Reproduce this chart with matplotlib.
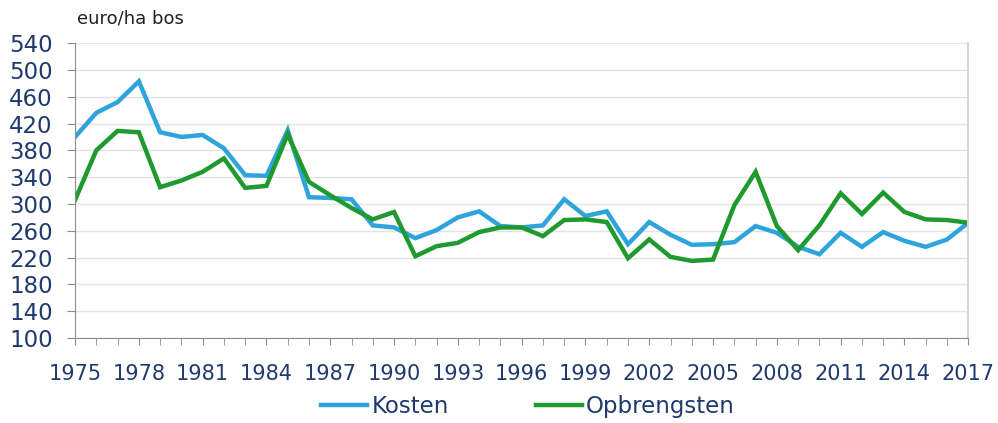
import matplotlib.pyplot as plt

years = list(range(1975, 2018))
kosten = [400, 436, 452, 483, 407, 400, 403, 383, 343, 342,
          410, 310, 309, 307, 268, 265, 249, 261, 280, 289,
          267, 265, 268, 307, 282, 289, 240, 273, 254, 239,
          240, 243, 267, 257, 236, 225, 257, 236, 258, 245,
          236, 247, 272]
opbrengsten = [306, 380, 409, 407, 325, 335, 348, 368, 324, 327,
               404, 333, 313, 294, 277, 288, 222, 237, 242, 258,
               265, 265, 252, 276, 277, 273, 219, 247, 221, 215,
               217, 298, 348, 267, 231, 268, 316, 285, 317, 288,
               277, 276, 272]
y_ticks = list(range(100, 541, 40))

navy = '#1f3a6e'

fig = plt.figure(figsize=(9.98, 4.23), dpi=100)
ax = fig.add_axes([0.0752, 0.201, 0.895, 0.697])

ax.plot(years, kosten, color='#2ea3dc', lw=3.2, label='Kosten', solid_joinstyle='miter')
ax.plot(years, opbrengsten, color='#1f9a2e', lw=3.2, label='Opbrengsten', solid_joinstyle='miter')

ax.set_xlim(1975, 2017)
ax.set_ylim(100, 540)
ax.set_xticks(years[::3])
ax.set_xticks(years, minor=True)
ax.set_yticks(y_ticks)

ax.grid(axis='y', color='#e3e3e3', lw=1)
ax.set_axisbelow(True)

for s in ['left', 'bottom']:
    ax.spines[s].set_color('#8c8c8c')
ax.spines['top'].set_visible(False)
ax.spines['right'].set_color('#d6d6d6')
ax.spines['right'].set_linewidth(1.5)

ax.tick_params(axis='x', which='both', length=5, color='#8c8c8c', labelsize=15,
               labelcolor=navy, pad=14)
ax.tick_params(axis='y', length=6, color='#8c8c8c', labelsize=16.5,
               labelcolor=navy, pad=10)

fig.text(0.077, 0.957, 'euro/ha bos', fontsize=13, color='#222222', va='center')

leg = fig.legend(loc='center', bbox_to_anchor=(0.529, 0.038), ncol=2,
                 frameon=False, fontsize=16.5, handlelength=2.0, handletextpad=0.2,
                 columnspacing=3.8, borderaxespad=0)
for t in leg.get_texts():
    t.set_color(navy)

fig.savefig('out.png', dpi=100)
